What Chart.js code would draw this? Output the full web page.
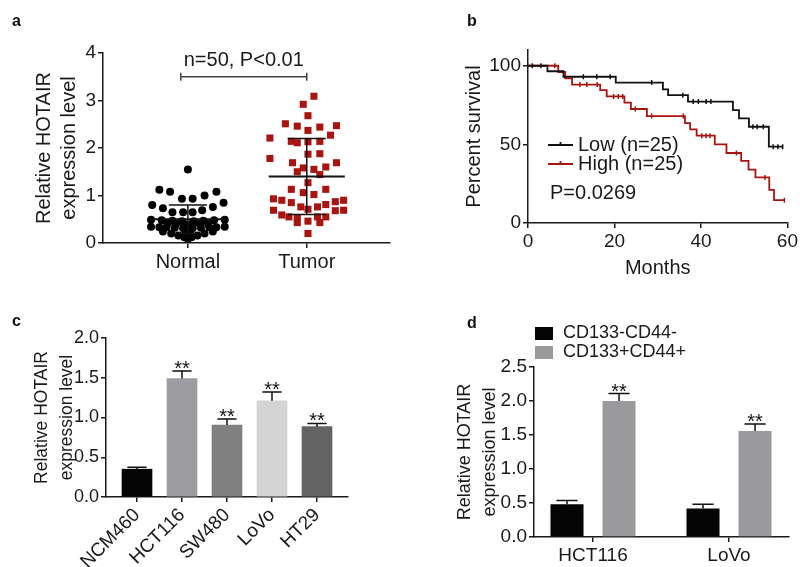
<!DOCTYPE html>
<html>
<head>
<meta charset="utf-8">
<script src="https://cdn.jsdelivr.net/npm/chart.js@4.4.0/dist/chart.umd.min.js"></script>
<style>
  body { margin: 0; background: #fff; }
  #page { position: relative; width: 800px; height: 567px; overflow: hidden; }
  canvas { position: absolute; }
  .tag { position: absolute; font: bold 16px/16px 'Liberation Sans', Arial, sans-serif; color: #111; }
</style>
</head>
<body>
<div id="page">
  <canvas id="chartA" width="400" height="280" style="left:0;top:0"></canvas>
  <canvas id="chartB" width="400" height="280" style="left:400px;top:0"></canvas>
  <canvas id="chartC" width="400" height="287" style="left:0;top:280px"></canvas>
  <canvas id="chartD" width="400" height="287" style="left:400px;top:280px"></canvas>
  <div class="tag" style="left:12px;top:13px">a</div>
  <div class="tag" style="left:467px;top:13px">b</div>
  <div class="tag" style="left:12px;top:313px">c</div>
  <div class="tag" style="left:467px;top:315px">d</div>
</div>
<script>
// ---- panel a: HOTAIR in tissue (x = offset inside the group column)
const groupNames = ['Normal', 'Tumor'];
const normalX = [0, -0.24, -0.15, 0.24, 0.14, -0.05, 0.04, 0.30, -0.30, -0.21, 0.21, -0.13, -0.04, 0.04, 0.12,
  -0.31, -0.22, -0.13, -0.05, 0.05, 0.13, 0.22, 0.31,
  -0.17, -0.10, -0.03, 0.03, 0.10, 0.17,
  -0.31, -0.24, -0.18, -0.11, -0.04, 0.04, 0.11, 0.18, 0.24, 0.31,
  -0.21, -0.14, -0.08, 0.08, 0.14, 0.21,
  -0.03, 0.03, 0, -0.02, 0.02];
const normalY = [1.55, 1.12, 1.08, 1.08, 1.00, 0.93, 0.93, 0.85, 0.80, 0.73, 0.76, 0.65, 0.65, 0.65, 0.69,
  0.49, 0.48, 0.47, 0.46, 0.46, 0.47, 0.48, 0.49,
  0.41, 0.40, 0.40, 0.40, 0.40, 0.41,
  0.34, 0.33, 0.33, 0.32, 0.31, 0.31, 0.32, 0.33, 0.33, 0.34,
  0.24, 0.20, 0.16, 0.16, 0.20, 0.24,
  0.12, 0.12, 0.09, 0.22, 0.27];
const tumorX = [0.06, -0.03, 0.01, -0.18, -0.08, 0.01, 0.11, 0.25, 0.20, -0.31,
  -0.13, -0.08, 0.01, 0.11, -0.31, -0.12, 0.01, 0.11, 0.25, -0.03,
  -0.08, 0.06, 0.16, 0.11, 0.01, -0.13, -0.03, 0.06, 0.16, -0.28,
  -0.21, -0.13, -0.05, 0.01, 0.09, 0.16, 0.24, 0.31, -0.28, -0.21,
  -0.15, -0.08, -0.08, 0.01, 0.11, 0.09, 0.16, 0.24, 0.31, 0.01];
const tumorY = [3.09, 2.92, 2.68, 2.51, 2.46, 2.37, 2.44, 2.47, 2.27, 2.21,
  2.14, 2.11, 2.13, 2.14, 1.78, 1.69, 1.87, 1.88, 1.69, 1.58,
  1.50, 1.55, 1.60, 1.44, 1.27, 1.13, 1.06, 1.02, 1.13, 0.93,
  0.90, 0.85, 0.76, 0.71, 0.76, 0.81, 0.87, 0.90, 0.69, 0.59,
  0.55, 0.52, 0.43, 0.46, 0.43, 0.55, 0.55, 0.68, 0.69, 0.20];
const groupMean = [0.5, 1.4];
const groupSD = [0.3, 0.8];
const bracketLevel = 3.5;
const bracketText = 'n=50, P<0.01';

// ---- panel b: survival
const lowMonths = [0, 4.5, 8.2, 20.3, 31.2, 32.4, 37.0, 47.4, 48.8, 51.1, 55.7, 58.9];
const lowSurv = [100, 96.5, 93, 89.3, 85, 81.3, 77.2, 71.8, 66.5, 61.2, 48.5, 48.5];
const lowCensorMonths = [1.0, 3.0, 12.8, 15.9, 19.0, 28.6, 35.8, 38.2, 39.4, 41.2, 42.3, 52.0, 53.0, 54.4, 56.7, 57.8, 58.9];
const lowCensorSurv = [100, 100, 93, 93, 93, 89.3, 81.3, 77.2, 77.2, 77.2, 77.2, 61.2, 61.2, 61.2, 48.5, 48.5, 48.5];
const highMonths = [0, 7.0, 8.6, 10.2, 16.7, 18.2, 22.3, 23.8, 27.5, 36.3, 37.5, 39.0, 43.2, 45.9, 49.3, 51.0, 52.6, 55.8, 56.9, 59.3];
const highSurv = [100, 96, 92, 88, 84.5, 80.5, 76.5, 72.5, 68, 63.5, 59.5, 55.5, 50, 44.5, 39.5, 34, 29, 21, 14.5, 14.5];
const highCensorMonths = [6.2, 12.0, 13.6, 16.0, 19.8, 20.9, 21.9, 24.8, 28.6, 35.9, 40.2, 41.2, 42.1, 48.2, 54.8, 59.3];
const highCensorSurv = [100, 88, 88, 88, 80.5, 80.5, 80.5, 72.5, 68, 68, 55.5, 55.5, 55.5, 44.5, 29, 14.5];
const survLabels = ['Low (n=25)', 'High (n=25)'];
const survP = 'P=0.0269';

// ---- panel c: cell lines
const cellLines = ['NCM460', 'HCT116', 'SW480', 'LoVo', 'HT29'];
const cellMean = [0.35, 1.49, 0.905, 1.21, 0.885];
const cellErr = [0.025, 0.095, 0.075, 0.11, 0.04];
const cellStars = ['', '**', '**', '**', '**'];

// ---- panel d: sorted cells
const sortLines = ['HCT116', 'LoVo'];
const sortNames = ['CD133-CD44-', 'CD133+CD44+'];
const negMean = [0.48, 0.42];
const negErr = [0.055, 0.06];
const posMean = [2.0, 1.56];
const posErr = [0.11, 0.10];

const ink = '#1a1a1a';
const red = '#a8140f';
const fontName = "'Liberation Sans', Arial, sans-serif";
const cellColors = ['#050505', '#9d9da1', '#808080', '#d4d4d4', '#636363'];

Chart.defaults.font.family = fontName;
Chart.defaults.color = ink;

const axisGrid = { drawOnChartArea: false, tickLength: 5, color: ink, lineWidth: 1.5, offset: false };
const axisBorder = { display: true, color: ink, width: 1.5 };
const noPlugins = { legend: { display: false }, tooltip: { enabled: false } };

// mean +/- SD lines and the significance bracket for panel a
const scatterStats = {
  id: 'scatterStats',
  afterDatasetsDraw(chart) {
    const { ctx, scales: { x, y } } = chart;
    ctx.save();
    ctx.strokeStyle = '#111';
    groupMean.forEach((m, i) => {
      const sd = groupSD[i];
      ctx.lineWidth = 2;
      ctx.beginPath();
      ctx.moveTo(x.getPixelForValue(i - 0.32), y.getPixelForValue(m));
      ctx.lineTo(x.getPixelForValue(i + 0.32), y.getPixelForValue(m));
      ctx.stroke();
      ctx.lineWidth = 1.5;
      ctx.beginPath();
      ctx.moveTo(x.getPixelForValue(i), y.getPixelForValue(m - sd));
      ctx.lineTo(x.getPixelForValue(i), y.getPixelForValue(m + sd));
      [m - sd, m + sd].forEach(v => {
        ctx.moveTo(x.getPixelForValue(i - 0.16), y.getPixelForValue(v));
        ctx.lineTo(x.getPixelForValue(i + 0.16), y.getPixelForValue(v));
      });
      ctx.stroke();
    });
    // bracket
    const by = y.getPixelForValue(bracketLevel);
    const bx1 = x.getPixelForValue(-0.06);
    const bx2 = x.getPixelForValue(1);
    ctx.strokeStyle = '#444';
    ctx.lineWidth = 1.5;
    ctx.beginPath();
    ctx.moveTo(bx1, by); ctx.lineTo(bx2, by);
    ctx.moveTo(bx1, by - 4); ctx.lineTo(bx1, by + 4);
    ctx.moveTo(bx2, by - 4); ctx.lineTo(bx2, by + 4);
    ctx.stroke();
    ctx.fillStyle = ink;
    ctx.font = '20px ' + fontName;
    ctx.textAlign = 'center';
    ctx.textBaseline = 'middle';
    ctx.fillText(bracketText, (bx1 + bx2) / 2, by - 16);
    ctx.restore();
  }
};

// legend + p value inside panel b
const survLegend = {
  id: 'survLegend',
  afterDatasetsDraw(chart) {
    const { ctx, chartArea } = chart;
    const colors = ['#111', red];
    ctx.save();
    ctx.font = '20px ' + fontName;
    ctx.textBaseline = 'middle';
    ctx.textAlign = 'left';
    survLabels.forEach((lab, i) => {
      const ly = chartArea.top + 95 + i * 19;
      const lx = chartArea.left + 20;
      ctx.strokeStyle = colors[i];
      ctx.lineWidth = 1.8;
      ctx.beginPath();
      ctx.moveTo(lx, ly); ctx.lineTo(lx + 25, ly);
      ctx.moveTo(lx + 12.5, ly - 3); ctx.lineTo(lx + 12.5, ly);
      ctx.stroke();
      ctx.fillStyle = ink;
      ctx.fillText(lab, lx + 30, ly);
    });
    ctx.fillText(survP, chartArea.left + 22, chartArea.top + 143);
    ctx.restore();
  }
};

// error bars and stars above bars (panels c and d)
const errorBars = {
  id: 'errorBars',
  afterDatasetsDraw(chart) {
    const ctx = chart.ctx;
    const yScale = chart.scales.y;
    ctx.save();
    chart.data.datasets.forEach((ds, di) => {
      const meta = chart.getDatasetMeta(di);
      meta.data.forEach((bar, i) => {
        const top = yScale.getPixelForValue(ds.data[i].y + ds.errors[i]);
        const cap = bar.width * 0.32;
        ctx.strokeStyle = '#111';
        ctx.lineWidth = 1.5;
        ctx.beginPath();
        ctx.moveTo(bar.x, bar.y); ctx.lineTo(bar.x, top);
        ctx.moveTo(bar.x - cap, top); ctx.lineTo(bar.x + cap, top);
        ctx.stroke();
        if (ds.stars && ds.stars[i]) {
          ctx.fillStyle = '#111';
          ctx.font = '20px ' + fontName;
          ctx.textAlign = 'center';
          ctx.textBaseline = 'alphabetic';
          ctx.fillText(ds.stars[i], bar.x, top + 4);
        }
      });
    });
    ctx.restore();
  }
};

const sortLegend = {
  id: 'sortLegend',
  afterDatasetsDraw(chart) {
    const { ctx, chartArea } = chart;
    ctx.save();
    ctx.font = '18px ' + fontName;
    ctx.textBaseline = 'middle';
    ctx.textAlign = 'left';
    chart.data.datasets.forEach((ds, i) => {
      const top = chartArea.top - 40 + i * 19;
      ctx.fillStyle = ds.backgroundColor;
      ctx.fillRect(chartArea.left + 1, top, 18, 13);
      ctx.fillStyle = ink;
      ctx.fillText(sortNames[i], chartArea.left + 29, top + 6.5);
    });
    ctx.restore();
  }
};

// ---- a
new Chart(document.getElementById('chartA'), {
  type: 'scatter',
  data: {
    datasets: [{
      data: normalY.map((v, i) => ({ x: normalX[i], y: v })),
      pointStyle: 'circle', pointRadius: 4, backgroundColor: '#000', borderWidth: 0
    }, {
      data: tumorY.map((v, i) => ({ x: 1 + tumorX[i], y: v })),
      pointStyle: 'rect', pointRadius: 5, backgroundColor: red, borderWidth: 0
    }]
  },
  options: {
    responsive: false, animation: false,
    layout: { padding: { top: 53, right: 10, bottom: 0, left: 0 } },
    plugins: noPlugins,
    scales: {
      x: {
        type: 'linear', min: -0.714, max: 1.70,
        afterBuildTicks: s => { s.ticks = groupNames.map((_, i) => ({ value: i })); },
        afterFit: s => { s.height = 37; },
        ticks: { callback: v => groupNames[v], font: { size: 20 }, padding: 2, maxRotation: 0, autoSkip: false },
        grid: axisGrid, border: axisBorder
      },
      y: {
        min: 0, max: 4,
        afterFit: s => { s.width = 103; },
        ticks: { stepSize: 1, font: { size: 19 }, padding: 2 },
        grid: axisGrid, border: axisBorder,
        title: { display: true, text: ['Relative HOTAIR', 'expression level'], font: { size: 20, lineHeight: 1.25 }, padding: { top: 32, bottom: 0 } }
      }
    }
  },
  plugins: [scatterStats]
});

// ---- b
new Chart(document.getElementById('chartB'), {
  type: 'scatter',
  data: {
    datasets: [{
      data: lowMonths.map((m, i) => ({ x: m, y: lowSurv[i] })),
      showLine: true, stepped: true, borderColor: '#111', borderWidth: 1.8, pointRadius: 0, fill: false
    }, {
      data: highMonths.map((m, i) => ({ x: m, y: highSurv[i] })),
      showLine: true, stepped: true, borderColor: red, borderWidth: 1.8, pointRadius: 0, fill: false
    }, {
      data: lowCensorMonths.map((m, i) => ({ x: m, y: lowCensorSurv[i] })),
      showLine: false, pointStyle: 'line', pointRotation: 90, pointRadius: 2.5,
      pointBorderColor: '#111', pointBorderWidth: 1.5
    }, {
      data: highCensorMonths.map((m, i) => ({ x: m, y: highCensorSurv[i] })),
      showLine: false, pointStyle: 'line', pointRotation: 90, pointRadius: 2.5,
      pointBorderColor: red, pointBorderWidth: 1.5
    }]
  },
  options: {
    responsive: false, animation: false,
    layout: { padding: { top: 50, right: 12, bottom: 0, left: 0 } },
    plugins: noPlugins,
    scales: {
      x: {
        type: 'linear', min: 0, max: 60,
        afterFit: s => { s.height = 57; },
        ticks: { stepSize: 20, font: { size: 19 }, padding: 2, maxRotation: 0 },
        grid: axisGrid, border: axisBorder,
        title: { display: true, text: 'Months', font: { size: 20, lineHeight: 1.2 }, padding: { top: 0, bottom: 0 } }
      },
      y: {
        min: 0, max: 110,
        afterBuildTicks: s => { s.ticks = [0, 50, 100].map(v => ({ value: v })); },
        afterFit: s => { s.width = 128; },
        ticks: { font: { size: 19 }, padding: 2 },
        grid: axisGrid, border: axisBorder,
        title: { display: true, text: 'Percent survival', font: { size: 20, lineHeight: 1.25 }, padding: { top: 62, bottom: 0 } }
      }
    }
  },
  plugins: [survLegend]
});

// ---- c
new Chart(document.getElementById('chartC'), {
  type: 'bar',
  data: {
    datasets: [{
      data: cellMean.map((v, i) => ({ x: i, y: v })),
      backgroundColor: cellColors, borderWidth: 0, barThickness: 30,
      errors: cellErr, stars: cellStars
    }]
  },
  options: {
    responsive: false, animation: false,
    layout: { padding: { top: 58, right: 52, bottom: 0, left: 0 } },
    plugins: noPlugins,
    scales: {
      x: {
        type: 'linear', min: -0.689, max: 4.689, offset: false,
        afterBuildTicks: s => { s.ticks = cellLines.map((_, i) => ({ value: i })); },
        afterFit: s => { s.height = 70; },
        ticks: { callback: v => cellLines[v], minRotation: 45, maxRotation: 45, autoSkip: false, font: { size: 19 }, padding: 2 },
        grid: axisGrid, border: axisBorder
      },
      y: {
        min: 0, max: 2,
        afterFit: s => { s.width = 106; },
        ticks: { stepSize: 0.5, callback: v => v.toFixed(1), font: { size: 18 }, padding: 2 },
        grid: axisGrid, border: axisBorder,
        title: { display: true, text: ['Relative HOTAIR', 'expression level'], font: { size: 17.5, lineHeight: 1.43 }, padding: { top: 29.5, bottom: 0 } }
      }
    }
  },
  plugins: [errorBars]
});

// ---- d
new Chart(document.getElementById('chartD'), {
  type: 'bar',
  data: {
    datasets: [{
      data: negMean.map((v, i) => ({ x: i, y: v })),
      backgroundColor: '#050505', borderWidth: 0,
      categoryPercentage: 0.765, barPercentage: 0.635,
      errors: negErr
    }, {
      data: posMean.map((v, i) => ({ x: i, y: v })),
      backgroundColor: '#9a9a9c', borderWidth: 0,
      categoryPercentage: 0.765, barPercentage: 0.635,
      errors: posErr, stars: ['**', '**']
    }]
  },
  options: {
    responsive: false, animation: false,
    layout: { padding: { top: 87, right: 11, bottom: 0, left: 0 } },
    plugins: noPlugins,
    scales: {
      x: {
        type: 'linear', min: -0.434, max: 1.441, offset: false,
        afterBuildTicks: s => { s.ticks = sortLines.map((_, i) => ({ value: i })); },
        afterFit: s => { s.height = 30; },
        ticks: { callback: v => sortLines[v], maxRotation: 0, autoSkip: false, font: { size: 19 }, padding: 2 },
        grid: axisGrid, border: axisBorder
      },
      y: {
        min: 0, max: 2.5,
        afterFit: s => { s.width = 134; },
        ticks: { stepSize: 0.5, callback: v => v.toFixed(1), font: { size: 19 }, padding: 2 },
        grid: axisGrid, border: axisBorder,
        title: { display: true, text: ['Relative HOTAIR', 'expression level'], font: { size: 18, lineHeight: 1.39 }, padding: { top: 52.5, bottom: 0 } }
      }
    }
  },
  plugins: [errorBars, sortLegend]
});
</script>
</body>
</html>
